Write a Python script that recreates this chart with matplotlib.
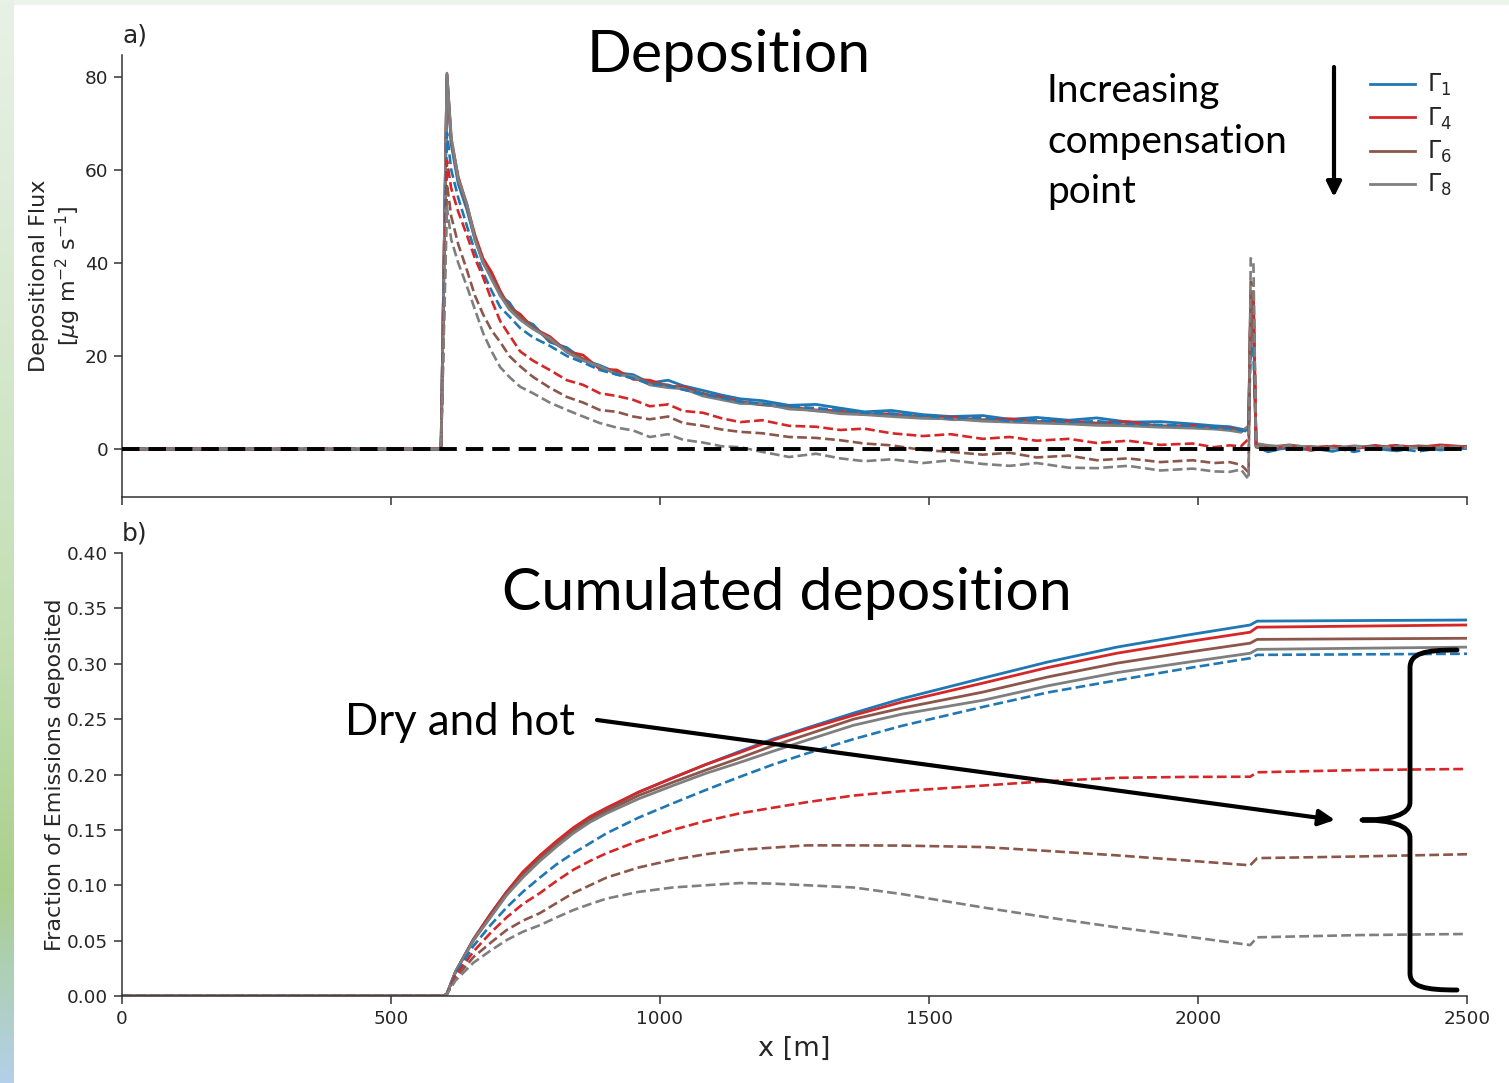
import numpy as np
import matplotlib
matplotlib.use("Agg")
import matplotlib.pyplot as plt
from matplotlib.path import Path
from matplotlib.patches import PathPatch
from matplotlib.colors import LinearSegmentedColormap

plt.rcParams['font.family'] = ['DejaVu Sans']
plt.rcParams['mathtext.fontset'] = 'dejavusans'

# ---------------- data: panel a) depositional flux ----------------
x_flux = [0, 593, 604, 612, 625, 641, 656, 671, 687, 703,
          720, 740, 764, 795, 827, 857, 888, 920, 950, 981,
          1015, 1043, 1080, 1115, 1149, 1190, 1240, 1290, 1335, 1380,
          1430, 1489, 1540, 1600, 1650, 1700, 1760, 1812, 1870, 1930,
          1990, 2030, 2059, 2080, 2094, 2098, 2103, 2108, 2130, 2170,
          2210, 2250, 2290, 2330, 2370, 2410, 2450, 2500]

flux_g1 = [0, 0, 80.5, 65.5, 57.0, 51.5, 45.0, 40.5, 37.5, 33.0,
           31.5, 28.0, 26.8, 23.0, 21.8, 19.2, 18.0, 16.4, 16.0, 14.2,
           14.8, 13.6, 12.6, 11.6, 10.8, 10.4, 9.4, 9.6, 8.8, 8.0,
           8.3, 7.4, 7.0, 7.2, 6.4, 6.8, 6.2, 6.7, 5.8, 5.9,
           5.4, 5.0, 4.8, 4.3, 4.0, 28.0, 27.0, 0.6, -0.6, 0.5,
           0.2, -0.5, 0.6, 0.1, -0.4, 0.5, -0.2, 0.3]
flux_g4 = [0, 0, 80.5, 66.5, 58.5, 52.5, 46.0, 41.0, 38.0, 34.0,
           30.5, 29.0, 26.0, 24.2, 21.0, 20.2, 17.2, 17.0, 15.0, 14.8,
           13.5, 13.4, 11.8, 11.2, 10.2, 9.6, 9.0, 8.4, 8.2, 7.4,
           7.6, 6.8, 6.9, 6.2, 6.5, 5.9, 6.0, 5.6, 5.9, 4.9,
           5.1, 4.4, 4.6, 3.8, 4.8, 30.0, 29.0, 0.9, 0.2, 0.7,
           -0.3, 0.6, 0.2, 0.8, 0.1, 0.4, 0.9, 0.5]
flux_g6 = [0, 0, 80.0, 66.0, 58.0, 52.0, 45.5, 40.0, 37.0, 33.5,
           30.8, 28.4, 26.2, 23.4, 21.2, 19.4, 17.6, 16.4, 15.4, 14.2,
           13.8, 12.8, 12.0, 10.8, 10.0, 9.5, 9.0, 8.2, 7.9, 7.5,
           7.2, 6.9, 6.4, 6.3, 6.0, 5.8, 5.6, 5.4, 5.2, 5.0,
           4.7, 4.5, 4.2, 4.0, 4.4, 32.0, 31.0, 0.7, 0.4, 0.9,
           0.3, 0.5, 0.1, 0.6, 0.3, 0.7, 0.4, 0.6]
flux_g8 = [0, 0, 80.8, 67.0, 58.0, 52.8, 45.0, 40.2, 36.5, 33.0,
           30.0, 27.8, 25.8, 23.8, 20.8, 19.0, 17.8, 16.0, 15.6, 13.8,
           13.2, 13.0, 11.4, 10.6, 9.8, 9.8, 8.6, 8.3, 7.6, 7.4,
           7.0, 6.6, 6.5, 6.0, 5.8, 5.6, 5.4, 5.1, 5.0, 4.7,
           4.5, 4.3, 4.0, 3.6, 5.0, 33.0, 32.0, 1.2, 0.8, 0.4,
           0.6, 0.2, 0.7, 0.3, 0.8, 0.2, 0.6, 0.4]

flux_dry_g1 = [0, 0, 68.0, 60.0, 54.0, 48.0, 42.5, 38.0, 34.0, 30.5,
               28.5, 26.0, 24.0, 22.2, 20.0, 18.6, 17.0, 16.0, 15.2, 14.0,
               13.6, 12.8, 11.8, 11.0, 10.2, 9.8, 9.2, 8.8, 8.4, 7.8,
               7.6, 7.2, 6.6, 6.8, 6.0, 6.2, 5.8, 6.0, 5.4, 5.2,
               5.0, 4.6, 4.4, 4.0, 3.8, 22.0, 21.0, 0.5, -0.4, 0.3,
               -0.2, 0.4, -0.6, 0.3, 0.1, -0.5, 0.2, 0.1]
flux_dry_g4 = [0, 0, 62.0, 56.0, 51.0, 46.0, 41.0, 37.0, 32.0, 27.5,
               24.5, 21.0, 19.0, 17.0, 14.8, 13.8, 12.0, 11.4, 10.6, 9.2,
               9.6, 8.2, 7.8, 6.6, 5.8, 6.2, 5.0, 4.8, 4.1, 4.4,
               3.4, 2.8, 3.2, 2.2, 2.6, 1.8, 2.2, 1.3, 1.8, 0.9,
               1.2, 0.4, 0.8, 0.6, 2.2, 34.0, 33.0, 0.8, 0.2, 0.5,
               0.3, 0.7, 0.2, 0.5, 0.8, 0.3, 0.6, 0.4]
flux_dry_g6 = [0, 0, 57.0, 50.0, 44.0, 38.5, 33.0, 29.0, 25.5, 23.0,
               20.0, 17.8, 15.5, 13.2, 11.2, 10.0, 8.4, 8.0, 7.0, 6.4,
               7.0, 5.6, 5.0, 4.2, 3.7, 3.4, 2.6, 2.4, 1.9, 1.2,
               0.8, -0.2, -0.6, -1.2, -0.8, -1.8, -1.4, -2.4, -2.0, -2.8,
               -2.4, -3.0, -2.8, -3.4, -5.0, 36.0, 35.0, 0.4, 0.1, 0.6,
               0.2, 0.5, 0.3, 0.7, 0.2, 0.5, 0.3, 0.6]
flux_dry_g8 = [0, 0, 52.0, 45.0, 40.0, 35.0, 30.0, 25.0, 21.0, 17.6,
               15.5, 13.4, 12.0, 10.0, 8.4, 7.0, 5.6, 4.6, 4.0, 2.6,
               3.2, 2.0, 1.4, 0.6, 0.4, -0.6, -1.7, -1.0, -2.0, -2.6,
               -2.2, -3.0, -2.4, -3.2, -3.6, -3.0, -4.0, -4.1, -3.6, -4.6,
               -4.2, -4.8, -4.9, -4.4, -6.5, 41.0, 40.0, 0.6, 0.3, 0.8,
               0.4, 0.2, 0.6, 0.3, 0.5, 0.2, 0.4, 0.3]

# ---------------- data: panel b) cumulated deposition ----------------
x_cum = [0, 598, 604, 620, 653, 685, 715, 745, 777, 808,
         839, 870, 901, 960, 1024, 1085, 1149, 1210, 1273, 1360,
         1450, 1600, 1720, 1849, 1975, 2097, 2110, 2300, 2500]

cum_g1 = [0, 0, 0.002, 0.022, 0.051, 0.074, 0.094, 0.111, 0.126, 0.139,
          0.151, 0.161, 0.169, 0.184, 0.197, 0.209, 0.221, 0.232, 0.242, 0.2555,
          0.2685, 0.287, 0.3015, 0.315, 0.3255, 0.335, 0.3385, 0.339, 0.3395]
cum_g4 = [0, 0, 0.002, 0.022, 0.051, 0.074, 0.094, 0.112, 0.127, 0.140,
          0.152, 0.162, 0.170, 0.184, 0.197, 0.209, 0.220, 0.231, 0.241, 0.2535,
          0.2655, 0.2825, 0.2965, 0.3095, 0.3195, 0.3285, 0.333, 0.334, 0.335]
cum_g6 = [0, 0, 0.002, 0.022, 0.050, 0.072, 0.092, 0.109, 0.124, 0.137,
          0.149, 0.159, 0.167, 0.181, 0.193, 0.204, 0.215, 0.226, 0.236, 0.250,
          0.260, 0.2744, 0.288, 0.3005, 0.310, 0.3186, 0.322, 0.3225, 0.323]
cum_g8 = [0, 0, 0.002, 0.022, 0.050, 0.071, 0.091, 0.107, 0.122, 0.135,
          0.147, 0.157, 0.165, 0.178, 0.190, 0.201, 0.211, 0.221, 0.231, 0.2445,
          0.2545, 0.267, 0.280, 0.292, 0.301, 0.3095, 0.313, 0.314, 0.315]

cum_dry_g1 = [0, 0, 0.002, 0.020, 0.045, 0.064, 0.080, 0.094, 0.107, 0.119,
              0.129, 0.138, 0.147, 0.161, 0.174, 0.186, 0.198, 0.209, 0.219, 0.232,
              0.244, 0.261, 0.274, 0.285, 0.2955, 0.305, 0.308, 0.3085, 0.309]
cum_dry_g4 = [0, 0, 0.002, 0.018, 0.040, 0.057, 0.071, 0.083, 0.093, 0.104,
              0.114, 0.122, 0.129, 0.140, 0.150, 0.158, 0.165, 0.170, 0.175, 0.181,
              0.185, 0.190, 0.194, 0.197, 0.1978, 0.198, 0.202, 0.204, 0.205]
cum_dry_g6 = [0, 0, 0.002, 0.016, 0.035, 0.048, 0.0596, 0.068, 0.0749, 0.084,
              0.093, 0.100, 0.107, 0.116, 0.123, 0.128, 0.132, 0.134, 0.136, 0.136,
              0.1358, 0.1345, 0.131, 0.127, 0.1225, 0.118, 0.1245, 0.126, 0.128]
cum_dry_g8 = [0, 0, 0.002, 0.014, 0.030, 0.041, 0.0505, 0.058, 0.064, 0.071,
              0.0776, 0.083, 0.088, 0.094, 0.098, 0.100, 0.102, 0.1015, 0.100, 0.098,
              0.092, 0.080, 0.071, 0.062, 0.054, 0.046, 0.053, 0.055, 0.056]

labels = [r'$\Gamma_1$', r'$\Gamma_4$', r'$\Gamma_6$', r'$\Gamma_8$']
colors = ['#1f77b4', '#d62728', '#8c564b', '#7f7f7f']
x_ticks = [0, 500, 1000, 1500, 2000, 2500]
flux_yticks = [0, 20, 40, 60, 80]
cum_yticks = [0.00, 0.05, 0.10, 0.15, 0.20, 0.25, 0.30, 0.35, 0.40]

flux_solid = [flux_g1, flux_g4, flux_g6, flux_g8]
flux_dry = [flux_dry_g1, flux_dry_g4, flux_dry_g6, flux_dry_g8]
cum_solid = [cum_g1, cum_g4, cum_g6, cum_g8]
cum_dry = [cum_dry_g1, cum_dry_g4, cum_dry_g6, cum_dry_g8]

# ---------------- figure ----------------
W, H = 1509, 1083
fig = plt.figure(figsize=(W / 100, H / 100), dpi=100)
fig.patch.set_facecolor('white')

# slide background decoration
bg = fig.add_axes([0, 0, 1, 1], zorder=-10)
cmap = LinearSegmentedColormap.from_list('strip', [
    (0.0, '#e8f1e6'), (0.35, '#d3e7cb'), (0.6, '#c2deb0'),
    (0.82, '#a9d08e'), (0.92, '#afcfc0'), (1.0, '#b3cfe9')])
grad = np.linspace(0, 1, 256).reshape(-1, 1)
bg.imshow(grad, cmap=cmap, aspect='auto', extent=[0, 14, H, 0])
bg.imshow(np.zeros((1, 1)), cmap=LinearSegmentedColormap.from_list('t', ['#edf4ec', '#edf4ec']),
          aspect='auto', extent=[14, W, 5, 0])
bg.set_xlim(0, W); bg.set_ylim(H, 0); bg.axis('off')

left = 122 / W
width = (1467 - 122) / W
ax1 = fig.add_axes([left, 1 - 497 / H, width, (497 - 55) / H])
ax2 = fig.add_axes([left, 1 - 996 / H, width, (996 - 553) / H])

text_col = '#262626'
for ax in (ax1, ax2):
    ax.set_facecolor('none')
    for s in ('top', 'right'):
        ax.spines[s].set_visible(False)
    for s in ('left', 'bottom'):
        ax.spines[s].set_color('#333333')
        ax.spines[s].set_linewidth(1.1)
    ax.tick_params(axis='both', length=6, width=1.1, color='#333333',
                   labelsize=13.3, labelcolor=text_col, pad=4)
    ax.set_xlim(0, 2500)
    ax.set_xticks(x_ticks)

# panel a
for ys, c, lab in zip(flux_solid, colors, labels):
    ax1.plot(x_flux, ys, color=c, lw=2.0, label=lab)
for ys, c in zip(flux_dry, colors):
    ax1.plot(x_flux, ys, color=c, lw=1.9, ls=(0, (3.7, 1.6)))
ax1.axhline(0, color='black', lw=2.8, ls=(0, (4.5, 2.3)), zorder=5)
ax1.set_ylim(-10.3, 84.7)
ax1.set_yticks(flux_yticks)
ax1.set_xticklabels([])
ax1.set_ylabel('Depositional Flux\n[$\\mu$g m$^{-2}$ s$^{-1}$]', fontsize=16,
               color=text_col, labelpad=1)

# panel b
for ys, c in zip(cum_solid, colors):
    ax2.plot(x_cum, ys, color=c, lw=2.0)
for ys, c in zip(cum_dry, colors):
    ax2.plot(x_cum, ys, color=c, lw=1.9, ls=(0, (3.7, 1.6)))
ax2.set_ylim(0, 0.40)
ax2.set_yticks(cum_yticks)
ax2.set_yticklabels([f'{v:.2f}' for v in cum_yticks])
ax2.set_ylabel('Fraction of Emissions deposited', fontsize=16, color=text_col, labelpad=1)
ax2.set_xlabel('x [m]', fontsize=19.5, color=text_col, labelpad=6)

leg = ax1.legend(loc='upper left', bbox_to_anchor=(1349 / W, 1 - 51 / H),
                 bbox_transform=fig.transFigure, frameon=False, fontsize=17,
                 handlelength=1.9, labelspacing=0.3, handletextpad=0.5)
for t in leg.get_texts():
    t.set_color(text_col)

# overlay annotations
ov = fig.add_axes([0, 0, 1, 1], zorder=20)
ov.set_xlim(0, W); ov.set_ylim(H, 0); ov.axis('off'); ov.patch.set_alpha(0)

ov.text(122, 36, 'a)', fontsize=18, color=text_col, ha='left', va='center')
ov.text(122, 534, 'b)', fontsize=18, color=text_col, ha='left', va='center')

big = dict(family='Lato', color='black')
ov.text(729, 72, 'Deposition', fontsize=42.5, ha='center', va='baseline', **big)
ov.text(787, 610, 'Cumulated deposition', fontsize=42.5, ha='center', va='baseline', **big)
ov.text(1047, 102, 'Increasing', fontsize=28, ha='left', va='baseline', **big)
ov.text(1047, 153, 'compensation', fontsize=28, ha='left', va='baseline', **big)
ov.text(1047, 203, 'point', fontsize=28, ha='left', va='baseline', **big)
ov.text(345, 735, 'Dry and hot', fontsize=31.5, ha='left', va='baseline', **big)

ov.annotate('', xy=(1334, 197), xytext=(1334, 67),
            arrowprops=dict(arrowstyle='-|>', lw=3, color='black',
                            mutation_scale=22, shrinkA=0, shrinkB=0))
ov.annotate('', xy=(1335, 820), xytext=(597, 720),
            arrowprops=dict(arrowstyle='-|>', lw=3, color='black',
                            mutation_scale=24, shrinkA=0, shrinkB=0))

verts = [(1457, 650),
         (1425, 650), (1410, 653), (1410, 668),
         (1410, 802),
         (1410, 815), (1390, 820), (1362, 820),
         (1390, 820), (1410, 825), (1410, 838),
         (1410, 973),
         (1410, 987), (1425, 990), (1457, 990)]
codes = [Path.MOVETO,
         Path.CURVE4, Path.CURVE4, Path.CURVE4,
         Path.LINETO,
         Path.CURVE4, Path.CURVE4, Path.CURVE4,
         Path.CURVE4, Path.CURVE4, Path.CURVE4,
         Path.LINETO,
         Path.CURVE4, Path.CURVE4, Path.CURVE4]
ov.add_patch(PathPatch(Path(verts, codes), fill=False, lw=3.5, color='black',
                       capstyle='round', joinstyle='round'))

fig.savefig('out.png', dpi=100)
